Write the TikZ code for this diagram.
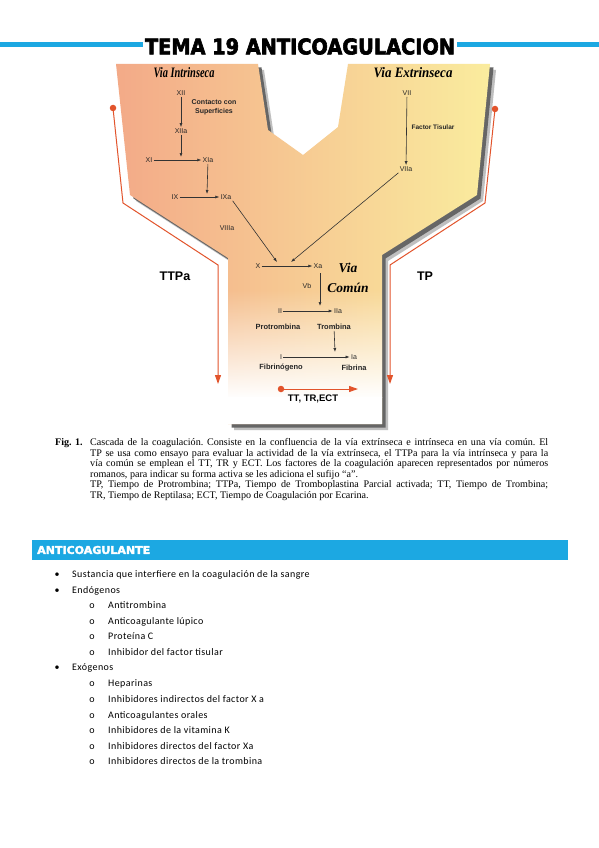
\documentclass[tikz,border=0pt]{standalone}
\usepackage{fontspec}
\usepackage{graphicx}
\usetikzlibrary{arrows.meta,fadings}
\setmainfont{Liberation Serif}
\newfontfamily\sansf{Liberation Sans}
\newfontfamily\calf[LetterSpace=4]{Carlito}
\newfontfamily\heavyf[FakeBold=3]{DejaVu Sans}
\definecolor{cyanband}{RGB}{28,168,226}
\definecolor{redl}{RGB}{226,84,44}
\definecolor{salmon}{RGB}{243,170,136}
\definecolor{paleyel}{RGB}{250,236,158}
\newcommand\tematxt{\resizebox{310pt}{16pt}{\heavyf\bfseries TEMA 19 ANTICOAGULACION}}
\newcommand\ypath{(116,64) -- (130,195) -- (228,258) -- (228,424) -- (382,424) -- (382,255) -- (477,195) -- (490,64) -- (348,64) -- (338,127) -- (303,155) -- (268,130) -- (258,64) -- cycle}
\tikzset{
  lbl/.style={inner sep=1.2pt, font=\sansf\fontsize{7}{8}\selectfont, text=black!85},
  blbl/.style={inner sep=1pt, font=\sansf\bfseries\fontsize{7.5}{8.5}\selectfont, text=black!85},
  arr/.style={black!80, line width=0.6pt, -{Latex[length=4pt,width=3pt]}},
  redline/.style={redl, line width=1pt, -{Triangle[length=9pt,width=6pt]}},
  reddot/.style={circle, fill=redl, inner sep=0pt, minimum size=6.5pt},
  capl/.style={anchor=base west, inner sep=0pt, font=\frenchspacing\fontsize{10.1}{11}\selectfont},
  item/.style={anchor=base west, inner sep=0pt, font=\calf\fontsize{10}{12}\selectfont},
  bul/.style={anchor=base, inner sep=0pt, font=\calf\fontsize{10}{12}\selectfont}
}
\begin{document}
\begin{tikzpicture}[x=1pt,y=-1pt]
\useasboundingbox (0,0) rectangle (599,848);
\fill[white] (0,0) rectangle (599,848);
% title
\draw[cyanband, line width=5pt] (0,44.5) -- (599,44.5);
\node[black, fill=white, inner xsep=1.5pt, inner ysep=1.5pt] (title) at (300,46.5) {\tematxt};
% Y shape
\fill[black!25] [xshift=6pt, yshift=-6pt] \ypath;
\fill[black!60] [xshift=3.5pt, yshift=-3.5pt] \ypath;
\shade[left color=salmon, right color=paleyel] \ypath;
\begin{scope}
  \clip \ypath;
  \fill[white, path fading=north] (220,290) rectangle (390,398);
  \fill[white] (220,397) rectangle (390,430);
\end{scope}
% red lines
\node[reddot] (dotL) at (113,108) {};
\coordinate (rL1) at (123,203);
\coordinate (rL2) at (218,265);
\coordinate (rL3) at (218,384);
\draw[redline] (dotL.center) -- (rL1) -- (rL2) -- (rL3);
\node[reddot] (dotR) at (495,109) {};
\coordinate (rR1) at (485,203);
\coordinate (rR2) at (390,265);
\coordinate (rR3) at (390,384);
\draw[redline] (dotR.center) -- (rR1) -- (rR2) -- (rR3);
\node[reddot] (dotB) at (281,389) {};
\coordinate (rB) at (358,389);
\draw[redline] (dotB.center) -- (rB);
% titles of pathways
\node[inner sep=0pt] (vi) at (184,73) {\resizebox{61pt}{10pt}{\bfseries\itshape Via Intrinseca}};
\node[inner sep=0pt] (ve) at (413,73) {\resizebox{79pt}{10pt}{\bfseries\itshape Via Extrinseca}};
\node[inner sep=0pt, align=center, font=\bfseries\itshape\fontsize{13.5}{20}\selectfont] (vc) at (348,278) {Via\\Común};
% intrinsic
\node[lbl] (XII) at (181,93) {XII};
\node[blbl, align=center, font=\sansf\bfseries\fontsize{7}{9}\selectfont] (cs) at (214,107) {Contacto con\\Superficies};
\node[lbl] (XIIa) at (181,131) {XIIa};
\node[lbl] (XI) at (149,160) {XI};
\node[lbl] (XIa) at (208,160) {XIa};
\node[lbl] (IX) at (175,197) {IX};
\node[lbl] (IXa) at (226,197) {IXa};
\node[lbl] (VIIIa) at (227,228) {VIIIa};
\coordinate (j1) at (181,157);
\coordinate (j2) at (207,194);
\draw[arr] (XII) -- (XIIa);
\draw[arr] (XIIa) -- (j1);
\draw[arr] (XI) -- (XIa);
\draw[arr] (XIa) -- (j2);
\draw[arr] (IX) -- (IXa);
% extrinsic
\node[lbl] (VII) at (407,93) {VII};
\node[blbl, font=\sansf\bfseries\fontsize{6.5}{8}\selectfont] (ft) at (433,127) {Factor Tisular};
\node[lbl] (VIIa) at (406,169) {VIIa};
\draw[arr] (VII) -- (VIIa);
% common
\node[lbl] (X) at (258,266) {X};
\node[lbl] (Xa) at (318,266) {Xa};
\coordinate (m1) at (277,262);
\coordinate (m2) at (291,262);
\draw[arr] (IXa.south east) -- (m1);
\draw[arr] (VIIa.south west) -- (m2);
\draw[arr] (X) -- (Xa);
\node[lbl] (Vb) at (307,286) {Vb};
\node[lbl] (II) at (280,311) {II};
\node[lbl] (IIa) at (338,311) {IIa};
\coordinate (j3) at (320,306);
\draw[arr] (320,273) -- (j3);
\draw[arr] (II) -- (IIa);
\node[blbl] (prot) at (278,327) {Protrombina};
\node[blbl] (tromb) at (334,327) {Trombina};
\node[lbl] (I) at (281,357) {I};
\node[lbl] (Ia) at (354,357) {Ia};
\coordinate (j4) at (335,352);
\draw[arr] (tromb) -- (j4);
\draw[arr] (I) -- (Ia);
\node[blbl] (fibg) at (281,368) {Fibrinógeno};
\node[blbl] (fib) at (354,368) {Fibrina};
\node[inner sep=0pt, font=\sansf\bfseries\fontsize{12.5}{14}\selectfont] (ttpa) at (175,276) {TTPa};
\node[inner sep=0pt, font=\sansf\bfseries\fontsize{12.5}{14}\selectfont] (tp) at (425,276) {TP};
\node[inner sep=0pt, font=\sansf\bfseries\fontsize{9.5}{11}\selectfont] (ttl) at (313,399) {TT, TR,ECT};
% caption
\node[capl, font=\bfseries\fontsize{10.1}{11}\selectfont] (fig) at (55,445) {Fig. 1.};
\node[capl] (c1) at (90,445) {\makebox[458pt][s]{Cascada de la coagulación. Consiste en la confluencia de la vía extrínseca e intrínseca en una vía común. El}};
\node[capl] (c2) at (90,456) {\makebox[458pt][s]{TP se usa como ensayo para evaluar la actividad de la vía extrínseca, el TTPa para la vía intrínseca y para la}};
\node[capl] (c3) at (90,466.5) {\makebox[458pt][s]{vía común se emplean el TT, TR y ECT. Los factores de la coagulación aparecen representados por números}};
\node[capl] (c4) at (90,477) {romanos, para indicar su forma activa se les adiciona el sufijo “a”.};
\node[capl] (c5) at (90,487) {\makebox[458pt][s]{TP, Tiempo de Protrombina; TTPa, Tiempo de Tromboplastina Parcial activada; TT, Tiempo de Trombina;}};
\node[capl] (c6) at (90,498) {TR, Tiempo de Reptilasa; ECT, Tiempo de Coagulación por Ecarina.};
% band
\fill[cyanband] (32,540) rectangle (568,560);
\node[anchor=west, inner sep=0pt, white] (band) at (37,550) {\resizebox{113pt}{8pt}{\heavyf\bfseries ANTICOAGULANTE}};
% list
\foreach \y/\lev/\t [count=\k] in {
 577/1/{Sustancia que interfiere en la coagulación de la sangre},
 593/1/{Endógenos},
 608.5/2/{Antitrombina},
 624/2/{Anticoagulante lúpico},
 639.5/2/{Proteína C},
 655/2/{Inhibidor del factor tisular},
 670.5/1/{Exógenos},
 686/2/{Heparinas},
 702/2/{Inhibidores indirectos del factor X a},
 718/2/{Anticoagulantes orales},
 733.5/2/{Inhibidores de la vitamina K},
 749/2/{Inhibidores directos del factor Xa},
 764.5/2/{Inhibidores directos de la trombina}}{
  \ifnum\lev=1
    \node[bul] (b\k) at (57,\y) {•};
    \node[item] (t\k) at (72,\y) {\t};
  \else
    \node[bul] (b\k) at (92,\y) {o};
    \node[item] (t\k) at (108,\y) {\t};
  \fi
}
\end{tikzpicture}
\end{document}
